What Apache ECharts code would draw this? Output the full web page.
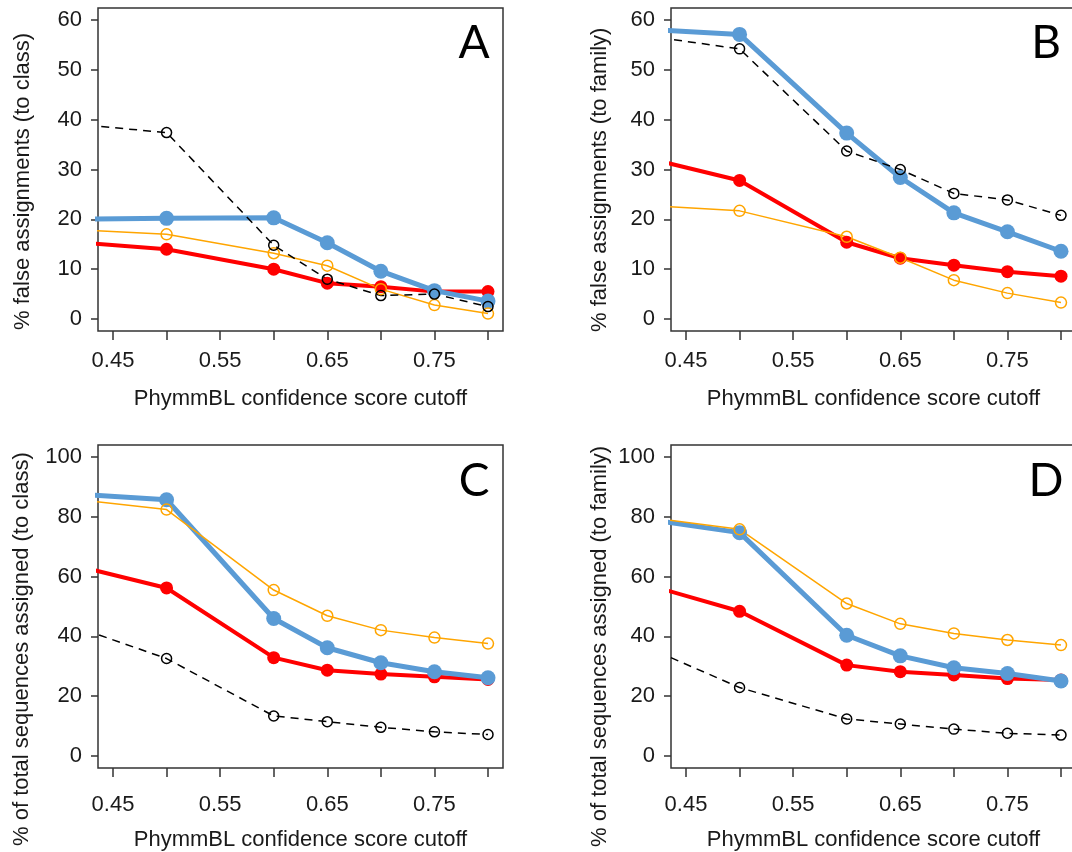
<!DOCTYPE html>
<html><head><meta charset="utf-8">
<script src="https://cdn.jsdelivr.net/npm/echarts@6/dist/echarts.min.js"></script>
<style>html,body{margin:0;padding:0;background:#fff}#c{width:1072px;height:852px}</style>
</head><body><div id="c"></div>
<script>
// x positions (PhymmBL confidence score cutoff)
const cutoffs = [0.4, 0.5, 0.6, 0.65, 0.7, 0.75, 0.8];

// Panel A: % false assignments (to class)
const aBlue   = [20.0, 20.2, 20.3, 15.3, 9.6, 5.7, 3.6];
const aRed    = [15.7, 14.0, 10.0, 7.2, 6.5, 5.5, 5.5];
const aOrange = [18.1, 17.0, 13.2, 10.7, 6.0, 2.8, 1.1];
const aBlack  = [39.4, 37.4, 14.8, 8.0, 4.7, 5.0, 2.5];

// Panel B: % false assignments (to family)
const bBlue   = [58.3, 57.1, 37.3, 28.4, 21.3, 17.5, 13.6];
const bRed    = [33.0, 27.8, 15.4, 12.2, 10.8, 9.5, 8.6];
const bOrange = [23.0, 21.7, 16.5, 12.3, 7.8, 5.2, 3.3];
const bBlack  = [57.2, 54.2, 33.7, 30.0, 25.2, 23.9, 20.8];

// Panel C: % of total sequences assigned (to class)
const cBlue   = [88.0, 85.7, 46.0, 36.2, 31.2, 28.2, 26.2];
const cRed    = [65.0, 56.2, 32.9, 28.7, 27.4, 26.5, 25.6];
const cOrange = [86.5, 82.4, 55.5, 46.9, 42.1, 39.6, 37.6];
const cBlack  = [45.1, 32.6, 13.4, 11.5, 9.6, 8.1, 7.2];

// Panel D: % of total sequences assigned (to family)
const dBlue   = [79.9, 74.7, 40.4, 33.5, 29.5, 27.6, 25.1];
const dRed    = [58.7, 48.4, 30.4, 28.2, 27.1, 25.9, 25.4];
const dOrange = [80.5, 75.8, 51.0, 44.2, 41.0, 38.8, 37.1];
const dBlack  = [38.5, 22.9, 12.4, 10.7, 9.0, 7.6, 7.0];

// tick values / labels
const xTickValues  = [0.45, 0.5, 0.55, 0.6, 0.65, 0.7, 0.75, 0.8];
const xLabelValues = [0.45, 0.55, 0.65, 0.75];
const yTicksFalse  = [0, 10, 20, 30, 40, 50, 60];
const yTicksTotal  = [0, 20, 40, 60, 80, 100];

const xTitle = 'PhymmBL confidence score cutoff';
const yTitles = ['% false assignments (to class)', '% false assignments (to family)',
                 '% of total sequences assigned (to class)', '% of total sequences assigned (to family)'];
const panelLetters = ['A', 'B', 'C', 'D'];

const FONT = '"Liberation Sans", Arial, sans-serif';
const TXT = '#1a1a1a';
const BOX = '#333';

const gridPos = [
  {left: 98,  top: 8,   width: 405, height: 323},
  {left: 671, top: 8,   width: 405, height: 323},
  {left: 98,  top: 445, width: 405, height: 323},
  {left: 671, top: 445, width: 405, height: 323}
];
const xLabelMargin = [19, 19, 26, 26];
const xNameGap = [57, 57, 61, 61];

const grids = gridPos.map(g => Object.assign({show: true, borderColor: BOX, borderWidth: 1.5,
  backgroundColor: 'transparent', containLabel: false, outerBoundsMode: 'none'}, g));

const xAxes = gridPos.map((g, i) => ({
  type: 'value', gridIndex: i, min: 0.436, max: 0.814,
  axisLine: {show: false, onZero: false},
  splitLine: {show: false},
  axisTick: {show: true, inside: false, length: 9, customValues: xTickValues, lineStyle: {color: BOX, width: 1.5}},
  axisLabel: {show: true, customValues: xLabelValues, margin: xLabelMargin[i], color: TXT, fontSize: 22, fontFamily: FONT,
              formatter: v => v.toFixed(2)},
  name: xTitle, nameLocation: 'middle', nameGap: xNameGap[i], nameMoveOverlap: false,
  nameTextStyle: {color: TXT, fontSize: 22, fontFamily: FONT}
}));

const yAxes = gridPos.map((g, i) => {
  const isFalse = i < 2;
  const ticks = isFalse ? yTicksFalse : yTicksTotal;
  return {
    type: 'value', gridIndex: i,
    min: isFalse ? -2.4 : -4, max: isFalse ? 62.4 : 104,
    axisLine: {show: false, onZero: false},
    splitLine: {show: false},
    axisTick: {show: true, inside: false, length: 7, customValues: ticks, lineStyle: {color: BOX, width: 1.5}},
    axisLabel: {show: true, customValues: ticks, margin: 16, color: TXT, fontSize: 22, fontFamily: FONT}
  };
});

const panels = [
  [aRed, aBlue, aOrange, aBlack],
  [bRed, bBlue, bOrange, bBlack],
  [cRed, cBlue, cOrange, cBlack],
  [dRed, dBlue, dOrange, dBlack]
];

const BLUE = '#5A9BD5', RED = '#FF0000', ORANGE = '#FFA500', BLACK = '#000000';
const styles = [
  {color: RED, width: 4, size: 13, filled: true},
  {color: BLUE, width: 5, size: 15, filled: true},
  {color: ORANGE, width: 1.5, size: 11, filled: false},
  {color: BLACK, width: 1.5, size: 10, filled: false, dashed: true}
];

const series = [];
panels.forEach((arrs, gi) => {
  arrs.forEach((vals, si) => {
    const s = styles[si];
    series.push({
      type: 'line', xAxisIndex: gi, yAxisIndex: gi,
      data: cutoffs.map((x, k) => [x, vals[k]]),
      clip: true, silent: true, animation: false,
      symbol: 'circle', symbolSize: s.size, showAllSymbol: true,
      lineStyle: {color: s.color, width: s.width, type: s.dashed ? [8, 6] : 'solid'},
      itemStyle: s.filled ? {color: s.color} : {color: 'rgba(255,255,255,0)', borderColor: s.color, borderWidth: 1.5},
      emphasis: {disabled: true}
    });
  });
});

const titlePos = [[23, 330], [600, 332], [22, 846], [600, 847]];
const letterPos = [[474, 43], [1046, 43], [474, 481], [1046, 481]];
const graphics = [];
yTitles.forEach((t, i) => {
  graphics.push({type: 'text', x: titlePos[i][0], y: titlePos[i][1], rotation: Math.PI / 2, silent: true,
    style: {text: t, font: '22px ' + FONT, fill: TXT, align: 'left', verticalAlign: 'middle'}});
});
panelLetters.forEach((t, i) => {
  graphics.push({type: 'text', x: letterPos[i][0], y: letterPos[i][1], silent: true,
    style: {text: t, font: '46px Lato, "Open Sans", sans-serif', fill: '#000', align: 'center', verticalAlign: 'middle'}});
});

const chart = echarts.init(document.getElementById('c'), null, {renderer: 'canvas'});
chart.setOption({
  animation: false,
  backgroundColor: '#fff',
  grid: grids, xAxis: xAxes, yAxis: yAxes, series: series, graphic: graphics
});
</script></body></html>
